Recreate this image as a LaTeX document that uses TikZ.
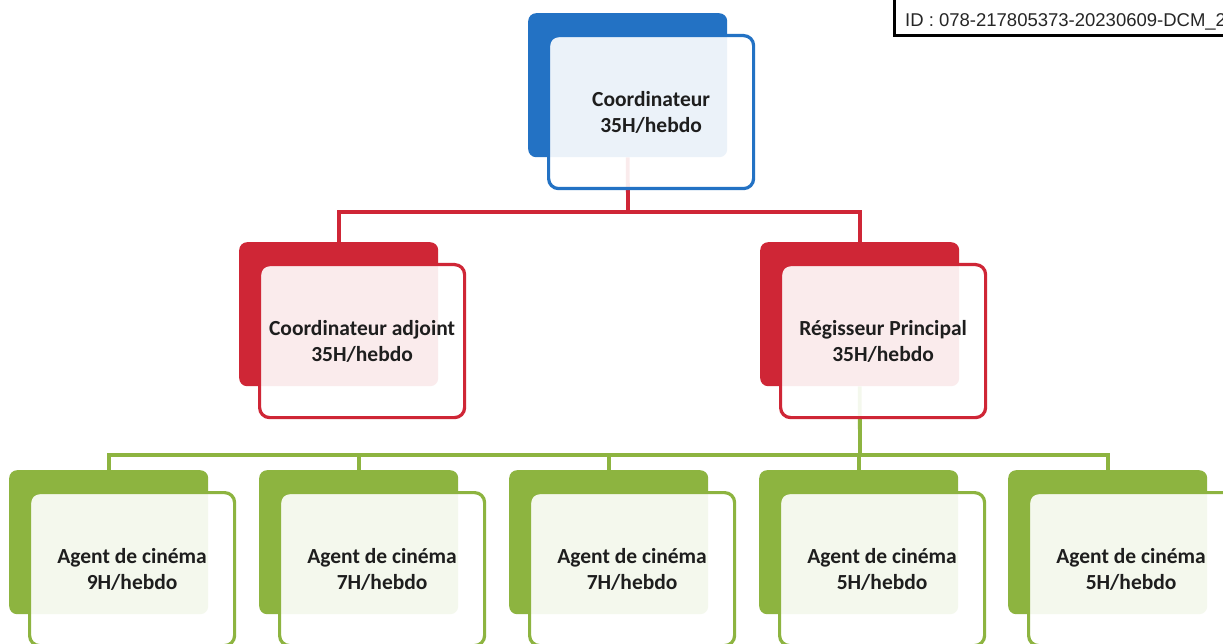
\documentclass[tikz,border=0pt]{standalone}
\usepackage{fontspec}
\setmainfont{Carlito}
\newfontfamily\idfont{Liberation Sans}
\usetikzlibrary{backgrounds}
\definecolor{cblue}{RGB}{35,114,196}
\definecolor{cred}{RGB}{207,38,54}
\definecolor{cgreen}{RGB}{141,180,64}
\definecolor{ctext}{RGB}{30,30,30}
\tikzset{
  backbox/.style={fill=#1, draw=none, rounded corners=8pt, minimum width=199pt, minimum height=144pt, inner sep=0pt, anchor=north west},
  frontbox/.style={draw=#1, line width=3.2pt, fill=white, fill opacity=0.91, text opacity=1, rounded corners=10pt, minimum width=205pt, minimum height=153pt, inner sep=0pt, anchor=north west, align=center, text=ctext, font=\fontsize{21.5}{26}\selectfont\bfseries},
  link/.style={draw=#1, line width=3.8pt},
}
\newcommand\orgbox[5]{%
  \node[backbox=#2] (#1b) at (#3,#4) {};
  \node[frontbox=#2] (#1) at ([xshift=19pt,yshift=-21pt]#1b.north west) {#5};
}
\begin{document}
\begin{tikzpicture}[x=1pt,y=-1pt]
\useasboundingbox (0,0) rectangle (1223,644);
\clip (0,0) rectangle (1223,644);
\orgbox{co}{cblue}{528}{13}{Coordinateur\\35H/hebdo}
\orgbox{ad}{cred}{239}{242}{Coordinateur adjoint\\35H/hebdo}
\orgbox{rp}{cred}{760}{242}{Régisseur Principal\\35H/hebdo}
\orgbox{a1}{cgreen}{9}{470}{Agent de cinéma\\9H/hebdo}
\orgbox{a2}{cgreen}{259}{470}{Agent de cinéma\\7H/hebdo}
\orgbox{a3}{cgreen}{509}{470}{Agent de cinéma\\7H/hebdo}
\orgbox{a4}{cgreen}{759}{470}{Agent de cinéma\\5H/hebdo}
\orgbox{a5}{cgreen}{1008}{470}{Agent de cinéma\\5H/hebdo}
\coordinate (rbus) at (628,212);
\coordinate (gbus) at (860,455);
\begin{scope}[on background layer]
\fill[white] (0,0) rectangle (1223,644);
\draw[link=cred] (cob.south) -- (rbus);
\draw[link=cred] (rbus) -| (adb.north);
\draw[link=cred] (rbus) -| (rpb.north);
\draw[link=cgreen] (rpb.south) -- (gbus);
\foreach \n in {a1,a2,a3,a4,a5}{
  \draw[link=cgreen] (gbus) -| (\n b.north);
}
\end{scope}
\node[draw=black, line width=3pt, fill=white, anchor=south west, minimum width=360pt, minimum height=50pt, inner sep=0pt] (idbox) at (893,37) {};
\node[anchor=base west, inner sep=0pt, font=\idfont\fontsize{18.5}{22}\selectfont, text=black!85] (idtext) at (905,27) {ID : 078-217805373-20230609-DCM\_2};
\end{tikzpicture}
\end{document}
